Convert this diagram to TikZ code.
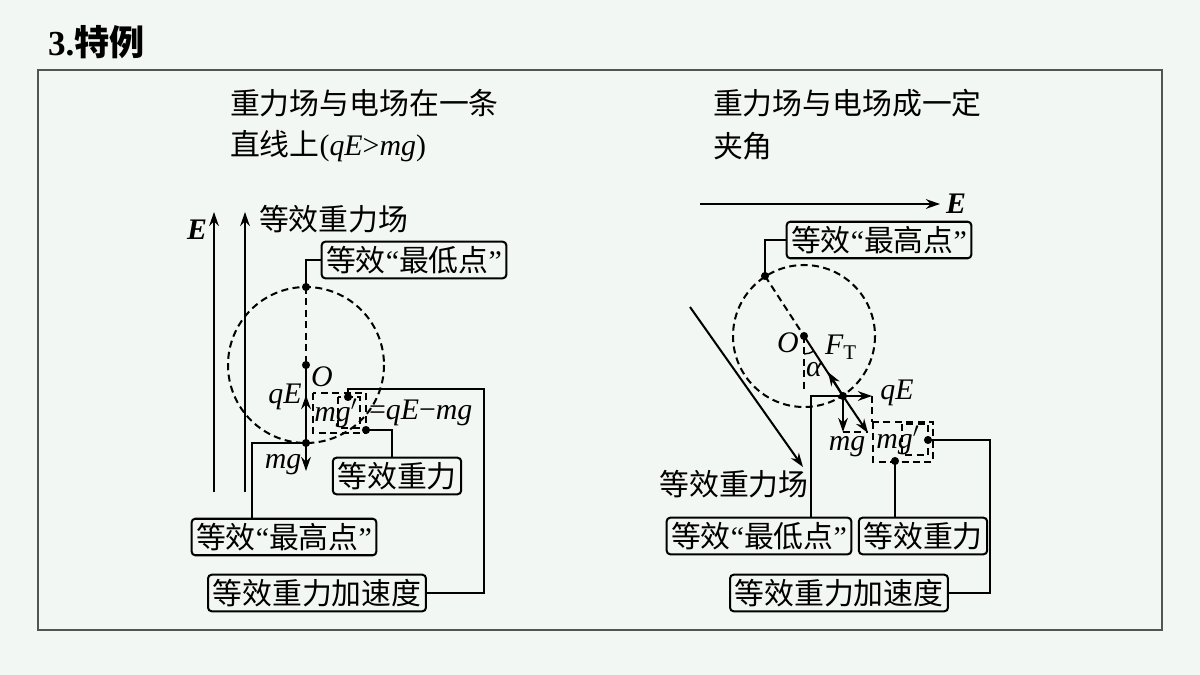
\documentclass[tikz,border=0pt]{standalone}
\usepackage{fontspec}
\setmainfont{Liberation Serif}
\newfontfamily\cjk{Noto Sans CJK SC}
\usetikzlibrary{arrows.meta}
\definecolor{fbfdfb}{rgb}{0.953,0.969,0.953}
\definecolor{wgwgwg}{rgb}{0.33,0.33,0.33}

\begin{document}
\begin{tikzpicture}[x=0.02cm,y=-0.02cm,line width=1.15pt,
	>={Stealth[length=8pt,width=5.5pt]},
	box/.style={draw,rounded corners=2pt,line width=1.15pt,inner sep=2.5pt,font=\cjk\fontsize{17}{20}\selectfont},
	txt/.style={inner sep=0pt,font=\cjk\fontsize{17}{20}\selectfont},
	lab/.style={inner sep=0pt,font=\fontsize{17}{20}\selectfont\itshape},
	dashy/.style={dash pattern=on 4pt off 2.5pt}]
\useasboundingbox[fill=fbfdfb] (0,0) rectangle (1200,675);
\draw[wgwgwg,line width=0.8pt] (38,70) rectangle (1162,630);
\node[anchor=west,inner sep=0pt] (T) at (47,42) {\fontsize{20}{22}\selectfont\bfseries 3.{\cjk 特例}};

\node[txt,anchor=west] (HL1) at (229,103) {重力场与电场在一条};
\node[txt,anchor=west] (HL2) at (229,146) {直线上{\rmfamily(\textit{qE}>\textit{mg})}};
\node[txt,anchor=west] (HR1) at (712,103) {重力场与电场成一定};
\node[txt,anchor=west] (HR2) at (712,146) {夹角};

% left: fields on one line
\def\ra{78}
\coordinate (O1) at (306,365);
\coordinate (A1) at (306,287);
\coordinate (B1) at (306,443);
\coordinate (Q1) at (306,395);
\coordinate (W1) at (306,471);
\coordinate (C1) at (348,397);
\coordinate (D1) at (366,430);
\coordinate (K1) at (252,443);
\coordinate (M1) at (484,389);
\coordinate (Es1) at (214,492);
\coordinate (Ee1) at (214,212);
\coordinate (Gs1) at (245,492);
\coordinate (Ge1) at (245,212);

\node[box] (lowL) at (414,260) {等效{\rmfamily “}最低点{\rmfamily ”}};
\node[box] (highL) at (284,537) {等效{\rmfamily “}最高点{\rmfamily ”}};
\node[box] (gravL) at (397,476) {等效重力};
\node[box] (accL) at (317,593) {等效重力加速度};

\draw[->] (Es1) -- (Ee1);
\draw[->] (Gs1) -- (Ge1);
\node[lab,font=\fontsize{17}{20}\selectfont\bfseries\itshape] (E1) at (197,230) {E};
\node[txt,anchor=west] (F1) at (258,219) {等效重力场};

\draw[dashy] (O1) circle (\ra);
\draw[dashy] (A1) -- (O1);
\draw (O1) -- (B1);
\draw[->] (B1) -- (Q1);
\draw[->] (B1) -- (W1);
\draw[dashy] (313,393) rectangle (366,433);
\draw[dashy] (338,397) rectangle (360,428);
\node[lab] (o1) at (322,377) {O};
\node[lab] (q1) at (285,397) {qE};
\node[lab] (m1) at (283,465) {mg};
\node[lab] (g1) at (336,413) {mg$'$};
\node[lab,anchor=west] (r1) at (368,413) {\upshape=\itshape qE\upshape−\itshape mg};

\draw (A1) |- (lowL.west);
\draw (B1) -- (K1) -- (K1 |- highL.north);
\draw (C1) |- (M1) |- (accL.east);
\draw (D1) -| ([xshift=-0.1cm]gravL.north);

% right: fields at an angle
\def\rb{71}
\coordinate (O2) at (804,336);
\coordinate (A2) at (765,276);
\coordinate (B2) at (843,396);
\coordinate (F2) at (828,372);
\coordinate (G2) at (868,433);
\coordinate (W2) at (843,432);
\coordinate (Q2) at (872,396);
\coordinate (V2) at (804,390);
\coordinate (C2) at (928,440);
\coordinate (D2) at (895,461);
\coordinate (K2) at (811,396);
\coordinate (M2) at (990,440);
\coordinate (Es2) at (700,204);
\coordinate (Ee2) at (940,204);
\coordinate (Gs2) at (690,307);
\coordinate (Ge2) at (803,467);

\node[box] (highR) at (879,240) {等效{\rmfamily “}最高点{\rmfamily ”}};
\node[box] (lowR) at (759,536) {等效{\rmfamily “}最低点{\rmfamily ”}};
\node[box] (gravR) at (923,536) {等效重力};
\node[box] (accR) at (839,593) {等效重力加速度};

\draw[->] (Es2) -- (Ee2);
\node[lab,font=\fontsize{17}{20}\selectfont\bfseries\itshape] (E2) at (956,204) {E};
\draw[->] (Gs2) -- (Ge2);
\node[txt] (F2l) at (734,484) {等效重力场};

\draw[dashy] (O2) circle (\rb);
\draw[dashy] (A2) -- (O2);
\draw[dashy] (O2) -- (V2);
\draw (O2) -- (B2);
\draw[line width=0.8pt] (O2) ++(90:18) arc[start angle=90,end angle=57,radius=18];
\draw[->] (B2) -- (F2);
\draw[->] (B2) -- (G2);
\draw[->] (B2) -- (W2);
\draw[->] (B2) -- (Q2);
\draw[dashy] (W2) -- (G2 |- W2);
\draw[dashy] (Q2) -- (872,422);
\draw[dashy] (873,422) rectangle (933,462);
\draw[dashy] (902,424) rectangle (928,455);
\node[lab] (o2) at (788,343) {O};
\node[lab] (t2) at (841,347) {F\textsubscript{\upshape T}};
\node[lab] (a2) at (814,370) {α};
\node[lab] (q2) at (897,393) {qE};
\node[lab] (m2) at (847,447) {mg};
\node[lab] (g2) at (898,440) {mg$'$};

\draw (A2) |- (highR.west);
\draw (B2) -- (K2) -- (K2 |- lowR.north);
\draw (C2) -- (M2) |- (accR.east);
\draw (D2) -- (D2 |- gravR.north);

\foreach \p in {A1,O1,B1,C1,D1,A2,O2,B2,C2,D2}
	\fill (\p) circle (2.3pt);

\end{tikzpicture}
\end{document}
